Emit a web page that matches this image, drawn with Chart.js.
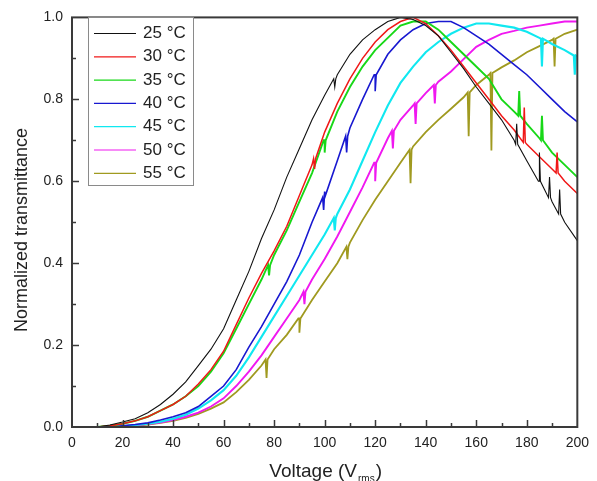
<!DOCTYPE html>
<html>
<head>
<meta charset="utf-8">
<script src="https://cdn.jsdelivr.net/npm/chart.js@4.4.1/dist/chart.umd.min.js"></script>
<style>
  html, body { margin: 0; padding: 0; background: #fff; }
  #wrap { width: 597px; height: 481px; position: relative; }
</style>
</head>
<body>
<div id="wrap"><canvas id="chart"></canvas></div>
<script>
// Voltage (Vrms), gelezen in stappen van 5 V
const volts = [0, 5, 10, 15, 20, 25, 30, 35, 40, 45, 50, 55, 60, 65, 70, 75, 80, 85, 90, 95, 100,
  105, 110, 115, 120, 125, 130, 135, 140, 145, 150, 155, 160, 165, 170, 175, 180, 185, 190, 195, 200];

const labels = ['25 °C', '30 °C', '35 °C', '40 °C', '45 °C', '50 °C', '55 °C'];
const colors = ['#111111', '#f01818', '#18d818', '#1818d0', '#10e8f0', '#f018f0', '#a09a20'];
const widths = [1.1, 1.5, 1.9, 1.6, 2.1, 1.9, 1.8];

const t25 = [0, 0, 0, 0.005, 0.012, 0.02, 0.035, 0.055, 0.08, 0.11, 0.15, 0.19, 0.24, 0.31, 0.38, 0.46, 0.53, 0.61, 0.68, 0.75, 0.81,
  0.86, 0.91, 0.945, 0.97, 0.99, 1.0, 0.995, 0.98, 0.955, 0.915, 0.875, 0.83, 0.79, 0.75, 0.70, 0.65, 0.60, 0.55, 0.50, 0.455];
const t30 = [0, 0, 0, 0.003, 0.008, 0.015, 0.025, 0.04, 0.055, 0.075, 0.105, 0.14, 0.185, 0.25, 0.315, 0.375, 0.43, 0.49, 0.565, 0.64, 0.72,
  0.79, 0.85, 0.9, 0.94, 0.97, 0.99, 1.0, 0.985, 0.955, 0.92, 0.88, 0.84, 0.80, 0.76, 0.725, 0.69, 0.66, 0.63, 0.60, 0.57];
const t35 = [0, 0, 0, 0.003, 0.008, 0.015, 0.025, 0.04, 0.055, 0.075, 0.1, 0.135, 0.18, 0.24, 0.3, 0.36, 0.42, 0.48, 0.55, 0.62, 0.7,
  0.77, 0.83, 0.88, 0.92, 0.95, 0.98, 0.99, 0.99, 0.97, 0.94, 0.91, 0.88, 0.85, 0.80, 0.77, 0.74, 0.705, 0.67, 0.64, 0.61];
const t40 = [0, 0, 0, 0, 0.003, 0.006, 0.01, 0.017, 0.025, 0.035, 0.05, 0.075, 0.1, 0.14, 0.195, 0.245, 0.3, 0.355, 0.42, 0.5, 0.575,
  0.65, 0.73, 0.8, 0.86, 0.91, 0.945, 0.97, 0.985, 0.99, 0.99, 0.975, 0.955, 0.935, 0.91, 0.885, 0.86, 0.83, 0.8, 0.77, 0.745];
const t45 = [0, 0, 0, 0, 0.002, 0.005, 0.008, 0.013, 0.02, 0.03, 0.045, 0.065, 0.09, 0.125, 0.17, 0.22, 0.27, 0.32, 0.37, 0.42, 0.47,
  0.52, 0.58, 0.65, 0.72, 0.785, 0.84, 0.88, 0.915, 0.94, 0.96, 0.975, 0.985, 0.985, 0.98, 0.975, 0.965, 0.95, 0.935, 0.92, 0.905];
const t50 = [0, 0, 0, 0, 0.002, 0.004, 0.007, 0.011, 0.017, 0.025, 0.035, 0.05, 0.07, 0.1, 0.135, 0.175, 0.22, 0.265, 0.31, 0.36, 0.41,
  0.465, 0.525, 0.585, 0.645, 0.705, 0.75, 0.785, 0.815, 0.843, 0.868, 0.898, 0.928, 0.945, 0.96, 0.967, 0.975, 0.98, 0.985, 0.99, 0.99];
const t55 = [0, 0, 0, 0, 0.001, 0.003, 0.006, 0.01, 0.015, 0.022, 0.032, 0.045, 0.06, 0.085, 0.115, 0.15, 0.19, 0.225, 0.265, 0.31, 0.355,
  0.4, 0.45, 0.505, 0.555, 0.6, 0.645, 0.685, 0.72, 0.75, 0.777, 0.805, 0.835, 0.86, 0.878, 0.895, 0.915, 0.93, 0.945, 0.96, 0.97];

// Zichtbare pieken in de meting: [spanning, basis, piek]
const spikes25 = [[104, 0.85, 0.83], [176, 0.69, 0.74], [185, 0.60, 0.67], [189, 0.56, 0.61], [193, 0.52, 0.58]];
const spikes30 = [[96, 0.655, 0.63], [179, 0.695, 0.78], [192, 0.62, 0.67]];
const spikes35 = [[78, 0.395, 0.37], [100, 0.70, 0.67], [177, 0.76, 0.82], [186, 0.70, 0.76]];
const spikes40 = [[99.6, 0.56, 0.53], [108.7, 0.71, 0.67], [120, 0.86, 0.82]];
const spikes45 = [[104, 0.51, 0.48], [186, 0.948, 0.88], [199, 0.907, 0.86]];
const spikes50 = [[92, 0.33, 0.30], [120, 0.645, 0.60], [127, 0.723, 0.68], [136, 0.79, 0.74], [143.6, 0.835, 0.79]];
const spikes55 = [[77, 0.165, 0.12], [90, 0.265, 0.23], [109, 0.44, 0.41], [134, 0.677, 0.595], [157, 0.817, 0.71], [166, 0.864, 0.675], [191, 0.948, 0.88]];

const series = [t25, t30, t35, t40, t45, t50, t55];
const spikeSets = [spikes25, spikes30, spikes35, spikes40, spikes45, spikes50, spikes55];

function buildPoints(values, spikes) {
  const pts = volts.map((v, i) => ({ x: v, y: values[i] }));
  spikes.forEach(s => {
    pts.push({ x: s[0] - 0.4, y: s[1] }, { x: s[0], y: s[2] }, { x: s[0] + 0.4, y: s[1] });
  });
  return pts.sort((a, b) => a.x - b.x);
}

const FONT = "'Liberation Sans', Arial, sans-serif";
const AXIS = '#3a3a3a';

// Kader, ticks naar binnen, aslabels en legenda
const frame = {
  id: 'frame',
  afterDraw(chart) {
    const { ctx, chartArea: a, scales: { x, y } } = chart;
    ctx.save();
    ctx.strokeStyle = AXIS;
    ctx.lineWidth = 1.5;
    for (let v = 10; v < 200; v += 10) {
      const px = Math.round(x.getPixelForValue(v)) + 0.5;
      const len = v % 20 === 0 ? 7 : 4;
      ctx.beginPath();
      ctx.moveTo(px, a.bottom);
      ctx.lineTo(px, a.bottom - len);
      ctx.stroke();
    }
    for (let i = 1; i < 10; i++) {
      const py = Math.round(y.getPixelForValue(i / 10)) + 0.5;
      const len = i % 2 === 0 ? 7 : 4;
      ctx.beginPath();
      ctx.moveTo(a.left, py);
      ctx.lineTo(a.left + len, py);
      ctx.stroke();
    }
    ctx.lineWidth = 2;
    ctx.strokeRect(a.left, a.top, a.right - a.left, a.bottom - a.top);

    // legenda
    const lx = 88, ly = 17, lw = 105, lh = 168;
    ctx.fillStyle = '#fff';
    ctx.fillRect(lx, ly, lw, lh);
    ctx.strokeStyle = '#8a8a8a';
    ctx.lineWidth = 1;
    ctx.strokeRect(lx + 0.5, ly + 0.5, lw, lh);
    ctx.font = '17px ' + FONT;
    ctx.textBaseline = 'middle';
    chart.data.datasets.forEach((ds, i) => {
      const yy = 33.5 + i * 23.3;
      ctx.strokeStyle = ds.borderColor;
      ctx.lineWidth = 1.2;
      ctx.beginPath();
      ctx.moveTo(94, yy);
      ctx.lineTo(136, yy);
      ctx.stroke();
      ctx.fillStyle = '#222';
      ctx.textAlign = 'left';
      ctx.fillText(ds.label, 143, yy);
    });

    // y-as titel
    ctx.fillStyle = '#222';
    ctx.save();
    ctx.translate(22, 230);
    ctx.rotate(-Math.PI / 2);
    ctx.font = '18px ' + FONT;
    ctx.textAlign = 'center';
    ctx.textBaseline = 'middle';
    ctx.fillText('Normalized transmittance', 0, 0);
    ctx.restore();

    // x-as titel met subscript
    const big = '19px ' + FONT, small = '10px ' + FONT;
    ctx.textBaseline = 'alphabetic';
    ctx.textAlign = 'left';
    ctx.font = big;
    const w1 = ctx.measureText('Voltage (V').width;
    const w3 = ctx.measureText(')').width;
    ctx.font = small;
    const w2 = ctx.measureText('rms').width;
    const cx = (a.left + a.right) / 2;
    let sx = cx - (w1 + w2 + w3) / 2;
    ctx.font = big;
    ctx.fillText('Voltage (V', sx, 477);
    ctx.font = small;
    ctx.fillText('rms', sx + w1 + 1, 482);
    ctx.font = big;
    ctx.fillText(')', sx + w1 + w2 + 2, 477);
    ctx.restore();
  }
};

new Chart(document.getElementById('chart'), {
  type: 'line',
  data: {
    datasets: series.map((vals, i) => ({
      label: labels[i],
      data: buildPoints(vals, spikeSets[i]),
      borderColor: colors[i],
      backgroundColor: colors[i],
      borderWidth: widths[i],
      pointRadius: 0,
      tension: 0,
      fill: false
    }))
  },
  options: {
    responsive: true,
    maintainAspectRatio: false,
    animation: false,
    layout: { padding: { left: 0, top: 16, right: 16, bottom: 0 } },
    plugins: { legend: { display: false }, tooltip: { enabled: false } },
    scales: {
      x: {
        type: 'linear',
        min: 0,
        max: 200,
        grid: { display: false, drawTicks: false },
        border: { display: false },
        ticks: { stepSize: 20, padding: 8, color: '#222', font: { family: FONT, size: 14 }, maxRotation: 0 },
        afterFit(s) { s.height = 54; }
      },
      y: {
        min: 0,
        max: 1,
        grid: { display: false, drawTicks: false },
        border: { display: false },
        ticks: { stepSize: 0.2, padding: 9, color: '#222', font: { family: FONT, size: 14 },
          callback: v => v.toFixed(1) },
        afterFit(s) { s.width = 72; }
      }
    }
  },
  plugins: [frame]
});
</script>
</body>
</html>
